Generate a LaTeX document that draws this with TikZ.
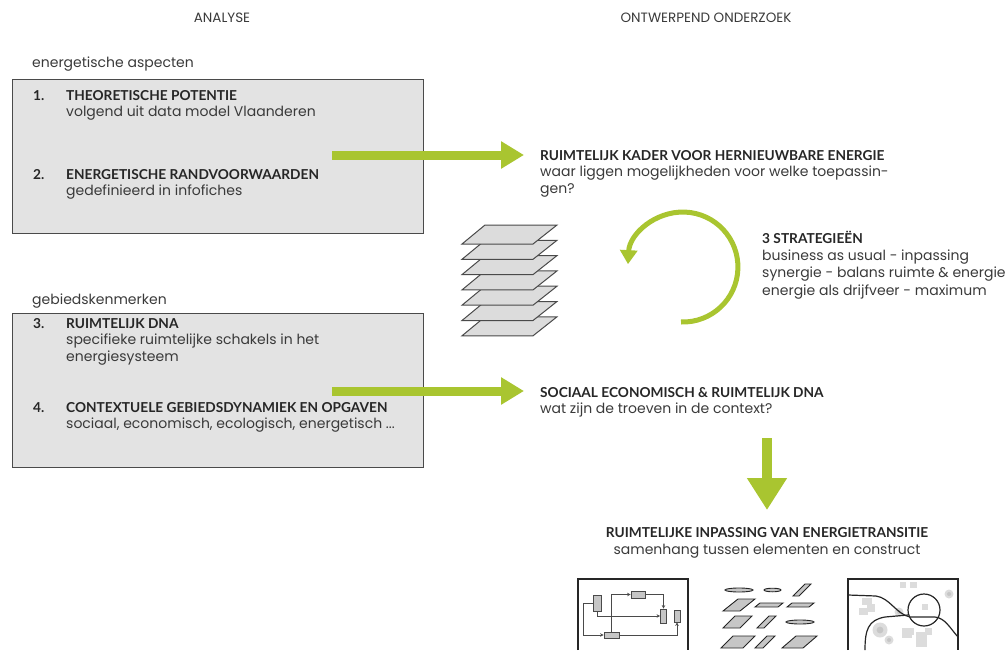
\documentclass[tikz,border=0pt]{standalone}
\usepackage{fontspec}
\setmainfont{Poppins}
\newfontfamily\headfont{Lato}
\usetikzlibrary{arrows.meta}

\definecolor{lime}{HTML}{A9C530}
\definecolor{boxgray}{HTML}{E3E3E3}
\definecolor{ink}{HTML}{3A3A3A}
\definecolor{inkdark}{HTML}{262626}
\definecolor{edge}{HTML}{4A4A4A}
\definecolor{chip}{HTML}{C6C6C6}
\definecolor{haze}{HTML}{DCDCDC}

\tikzset{
  body/.style={anchor=base west, inner sep=0pt, text=ink, font=\fontsize{14}{16}\selectfont},
  head/.style={anchor=base west, inner sep=0pt, text=inkdark, font=\headfont\bfseries\fontsize{13.7}{16}\selectfont},
  toptitle/.style={anchor=base, inner sep=0pt, text=ink, font=\fontsize{13.5}{15}\selectfont},
  panel/.style={draw=edge, line width=1pt, fill=boxgray},
  flow/.style={draw=lime, line width=9pt, -{Triangle[width=26pt,length=23pt]}},
  bigflow/.style={draw=lime, line width=10pt, -{Triangle[width=38pt,length=32pt]}},
  layer/.style={draw=edge, line width=1pt, fill=haze},
  blk/.style={draw=edge, line width=0.8pt, fill=chip, inner sep=0pt, minimum width=#1},
  wire/.style={draw=edge, line width=0.8pt},
  wirearrow/.style={wire, -{Stealth[length=3.5pt,width=3.5pt]}},
  piece/.style={draw=inkdark, line width=0.9pt, fill=chip},
  frame/.style={draw=inkdark, line width=1.2pt},
  spot/.style={fill=haze, draw=none},
}

\newcommand{\plg}[5]{% left x, top y, width, height, slant
  \path[piece] (#1+#5,#2) -- (#1+#5+#3,#2) -- (#1+#3,#2+#4) -- (#1,#2+#4) -- cycle;}

\begin{document}
\begin{tikzpicture}[x=1pt,y=-1pt]
\useasboundingbox (0,0) rectangle (1008,650);

% column titles
\node[toptitle] (tA) at (222,23) {ANALYSE};
\node[toptitle] (tB) at (706,23) {ONTWERPEND ONDERZOEK};

% ---- energetic aspects panel
\node[body] (lab1) at (32,68) {energetische aspecten};
\path[panel] (12,80) rectangle (423,233);
\node[head] (n1) at (33,101) {1.};
\node[head] (h1) at (66,101) {THEORETISCHE POTENTIE};
\node[body] (s1) at (66,117) {volgend uit data model Vlaanderen};
\node[head] (n2) at (33,179) {2.};
\node[head] (h2) at (66,179) {ENERGETISCHE RANDVOORWAARDEN};
\node[body] (s2) at (66,195) {gedefinieerd in infofiches};

% ---- area characteristics panel
\node[body] (lab2) at (32,304) {gebiedskenmerken};
\path[panel] (12,313) rectangle (423,467);
\node[head] (n3) at (33,328) {3.};
\node[head] (h3) at (66,328) {RUIMTELIJK DNA};
\node[body] (s3a) at (66,344) {specifieke ruimtelijke schakels in het};
\node[body] (s3b) at (66,361) {energiesysteem};
\node[head] (n4) at (33,412) {4.};
\node[head] (h4) at (66,412) {CONTEXTUELE GEBIEDSDYNAMIEK EN OPGAVEN};
\node[body] (s4) at (66,428) {sociaal, economisch, ecologisch, energetisch ...};

% ---- design research column
\node[head] (r1) at (540,160) {RUIMTELIJK KADER VOOR HERNIEUWBARE ENERGIE};
\node[body] (r1a) at (540,176) {waar liggen mogelijkheden voor welke toepassin-};
\node[body] (r1b) at (540,193) {gen?};

\node[head] (st) at (762,243) {3 STRATEGIEËN};
\node[body] (st1) at (762,260) {business as usual - inpassing};
\node[body] (st2) at (762,277) {synergie - balans ruimte \& energie};
\node[body] (st3) at (762,295) {energie als drijfveer - maximum};

\node[head] (r2) at (540,397) {SOCIAAL ECONOMISCH \& RUIMTELIJK DNA};
\node[body] (r2a) at (540,413) {wat zijn de troeven in de context?};

\node[head, anchor=base] (r3) at (767,537) {RUIMTELIJKE INPASSING VAN ENERGIETRANSITIE};
\node[body, anchor=base] (r3a) at (767,554) {samenhang tussen elementen en construct};

% ---- flow arrows
\coordinate (f1s) at (332,155);
\coordinate (f1e) at (524,155);
\coordinate (f2s) at (332,391);
\coordinate (f2e) at (524,391);
\coordinate (f3s) at (767,438);
\coordinate (f3e) at (767,510);
\draw[flow] (f1s) -- (f1e);
\draw[flow] (f2s) -- (f2e);
\draw[bigflow] (f3s) -- (f3e);

% ---- iteration loop
\draw[draw=lime, line width=5pt, -{Triangle[width=17pt,length=14pt]}]
  (681,322) arc[start angle=92, end angle=-177, radius=55];

% ---- stack of map layers
\foreach \i in {6,5,...,0}{
  \path[layer] (485,225+15.3*\i) -- (557,225+15.3*\i) -- (533,244+15.3*\i) -- (462,244+15.3*\i) -- cycle;
}

% ---- icon: network scheme
\draw[frame] (578,650) -- (578,579) -- (688,579) -- (688,650);
\node[blk=8pt, minimum height=16pt] (b1) at (597,603) {};
\node[blk=14pt, minimum height=7pt] (b2) at (638,594.5) {};
\node[blk=6pt, minimum height=14pt] (b3) at (663.5,616) {};
\node[blk=6pt, minimum height=12pt] (b4) at (677,616) {};
\node[blk=15pt, minimum height=6pt] (b5) at (611.5,635) {};
\draw[wirearrow] (b1.west) -- ++(-9,0) |- (b5.west);
\draw[wirearrow] (b5.north) |- (b2.west);
\draw[wirearrow] (b2.east) -| (b3.north);
\draw[wirearrow] (b1.south) |- (b3.west);
\draw[wirearrow] (b5.east) -| (b4.south);

% ---- icon: loose elements
\path[piece] (739,590) ellipse[x radius=14, y radius=2];
\path[piece] (772.5,590) ellipse[x radius=8.5, y radius=1.8];
\plg{793}{584}{6}{12}{12}
\plg{723}{599}{17}{12}{15}
\plg{755}{603}{23}{4}{5}
\plg{787}{603}{22}{4}{5}
\plg{723}{616}{17}{12}{12}
\plg{757}{616}{7}{12}{12}
\path[piece] (800,622) ellipse[x radius=14, y radius=2];
\plg{721}{636}{22}{12}{12}
\plg{755}{636}{8}{12}{12}
\plg{782}{636}{21}{12}{14}

% ---- icon: site map
\foreach \x/\y/\w/\h in {900/582/6/6, 910/582/7/6, 862/598/10/7, 867/604/8/8, 859/608/9/7,
  922/604/6/6, 902/628/10/10, 906/628/8/7, 916/632/11/15, 925/628/7/7, 920/634/6/6}{
  \path[spot] (\x,\y) rectangle ++(\w,\h);
}
\foreach \x/\y/\r in {880/630/7.5, 889/640/4.5, 949/594/4.5, 899/612/4.5}{
  \path[fill=haze] (\x,\y) circle[radius=\r];
  \path[fill=chip] (\x,\y) circle[radius=\r*0.45];
}
\draw[frame] (848,650) -- (848,579) -- (958,579) -- (958,650);
\draw[frame] (848,595) -- (876,596) .. controls (890,598) and (896,614) .. (910,617)
  -- (935,617) .. controls (945,618) and (950,628) .. (958,637);
\draw[frame] (865,650) .. controls (865,630) and (868,620) .. (885,617) -- (908,615);
\draw[frame] (924,610) circle[radius=16];

\end{tikzpicture}
\end{document}
